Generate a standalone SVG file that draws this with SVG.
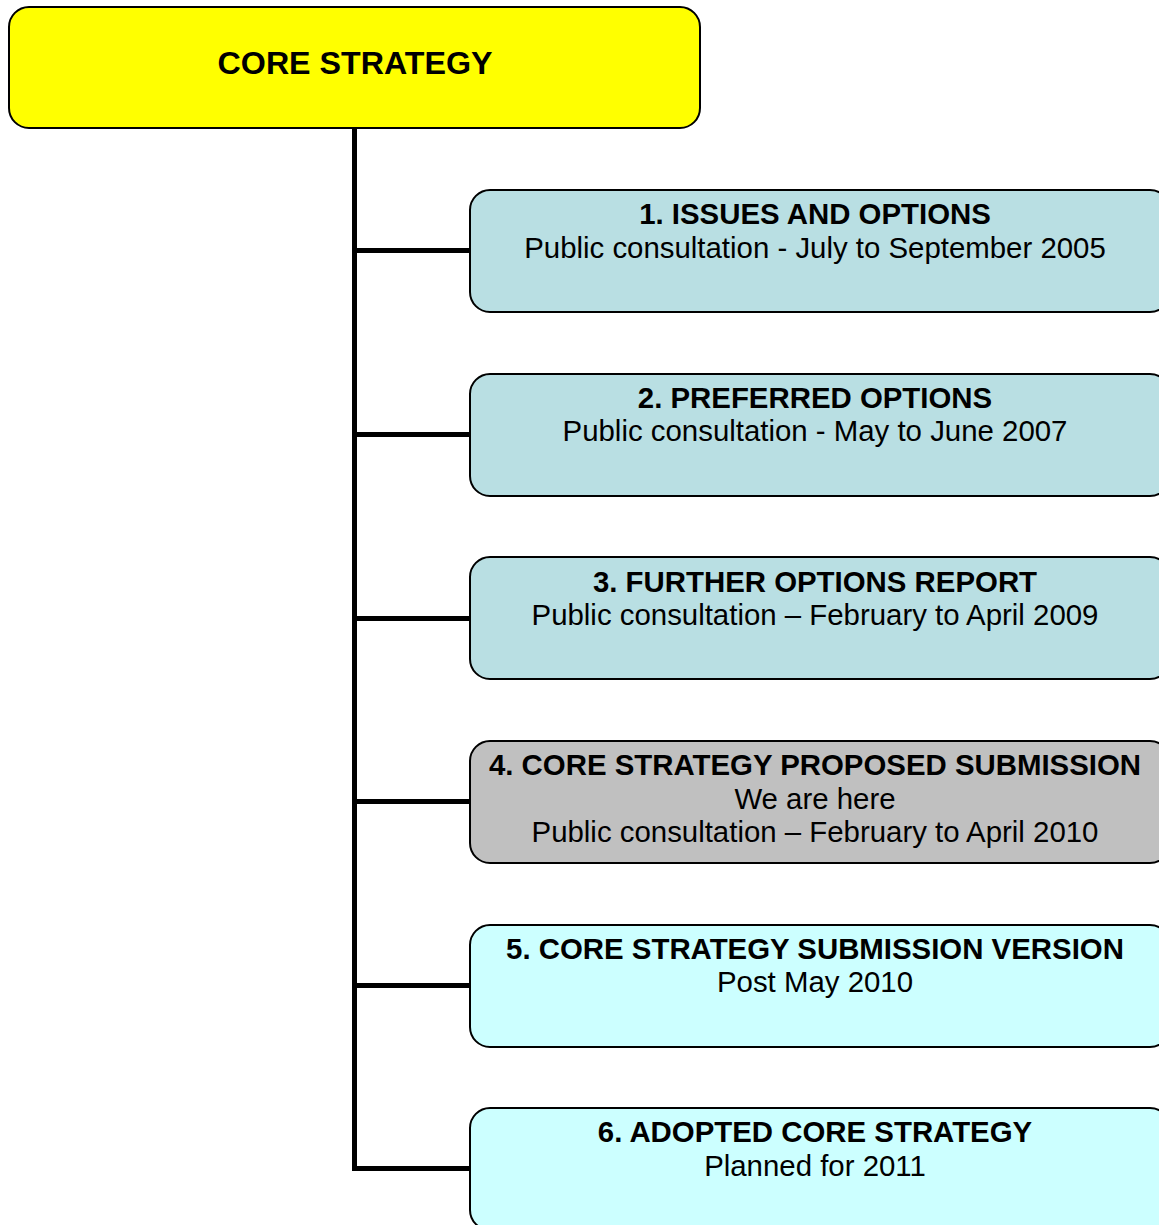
<svg xmlns="http://www.w3.org/2000/svg" width="1159" height="1225" viewBox="0 0 1159 1225">
<style>
.box{stroke:#000;stroke-width:2}
.t{font-family:"Liberation Sans",Arial,sans-serif;font-size:29.4px;fill:#000;text-anchor:middle}
.b{font-weight:bold}
.conn{stroke:#000;stroke-width:5;fill:none}
</style>
<rect width="1159" height="1225" fill="#fff"/>
<g id="connectors">
<path class="conn" d="M354.5 128 V1168.5 H470"/>
<path class="conn" d="M354.5 250.5 H470 M354.5 434.5 H470 M354.5 618.5 H470 M354.5 801.5 H470 M354.5 985.5 H470"/>
</g>
<g id="core">
<rect class="box" x="9" y="7" width="691" height="121" rx="20" fill="#FFFF00"/>
<text class="t b" x="355" y="74" style="font-size:32.2px">CORE STRATEGY</text>
</g>
<g id="n1">
<rect class="box" x="470" y="190" width="700" height="122" rx="20" fill="#B9DFE3"/>
<text class="t b" x="815" y="224">1. ISSUES AND OPTIONS</text>
<text class="t" x="815" y="258">Public consultation - July to September 2005</text>
</g>
<g id="n2">
<rect class="box" x="470" y="374" width="700" height="122" rx="20" fill="#B9DFE3"/>
<text class="t b" x="815" y="408">2. PREFERRED OPTIONS</text>
<text class="t" x="815" y="441">Public consultation - May to June 2007</text>
</g>
<g id="n3">
<rect class="box" x="470" y="557" width="700" height="122" rx="20" fill="#B9DFE3"/>
<text class="t b" x="815" y="592">3. FURTHER OPTIONS REPORT</text>
<text class="t" x="815" y="625">Public consultation – February to April 2009</text>
</g>
<g id="n4">
<rect class="box" x="470" y="741" width="700" height="122" rx="20" fill="#C0C0C0"/>
<text class="t b" x="815" y="775">4. CORE STRATEGY PROPOSED SUBMISSION</text>
<text class="t" x="815" y="809">We are here</text>
<text class="t" x="815" y="842">Public consultation – February to April 2010</text>
</g>
<g id="n5">
<rect class="box" x="470" y="925" width="700" height="122" rx="20" fill="#CCFFFF"/>
<text class="t b" x="815" y="959">5. CORE STRATEGY SUBMISSION VERSION</text>
<text class="t" x="815" y="992">Post May 2010</text>
</g>
<g id="n6">
<rect class="box" x="470" y="1108" width="700" height="122" rx="20" fill="#CCFFFF"/>
<text class="t b" x="815" y="1142">6. ADOPTED CORE STRATEGY</text>
<text class="t" x="815" y="1176">Planned for 2011</text>
</g>
</svg>
